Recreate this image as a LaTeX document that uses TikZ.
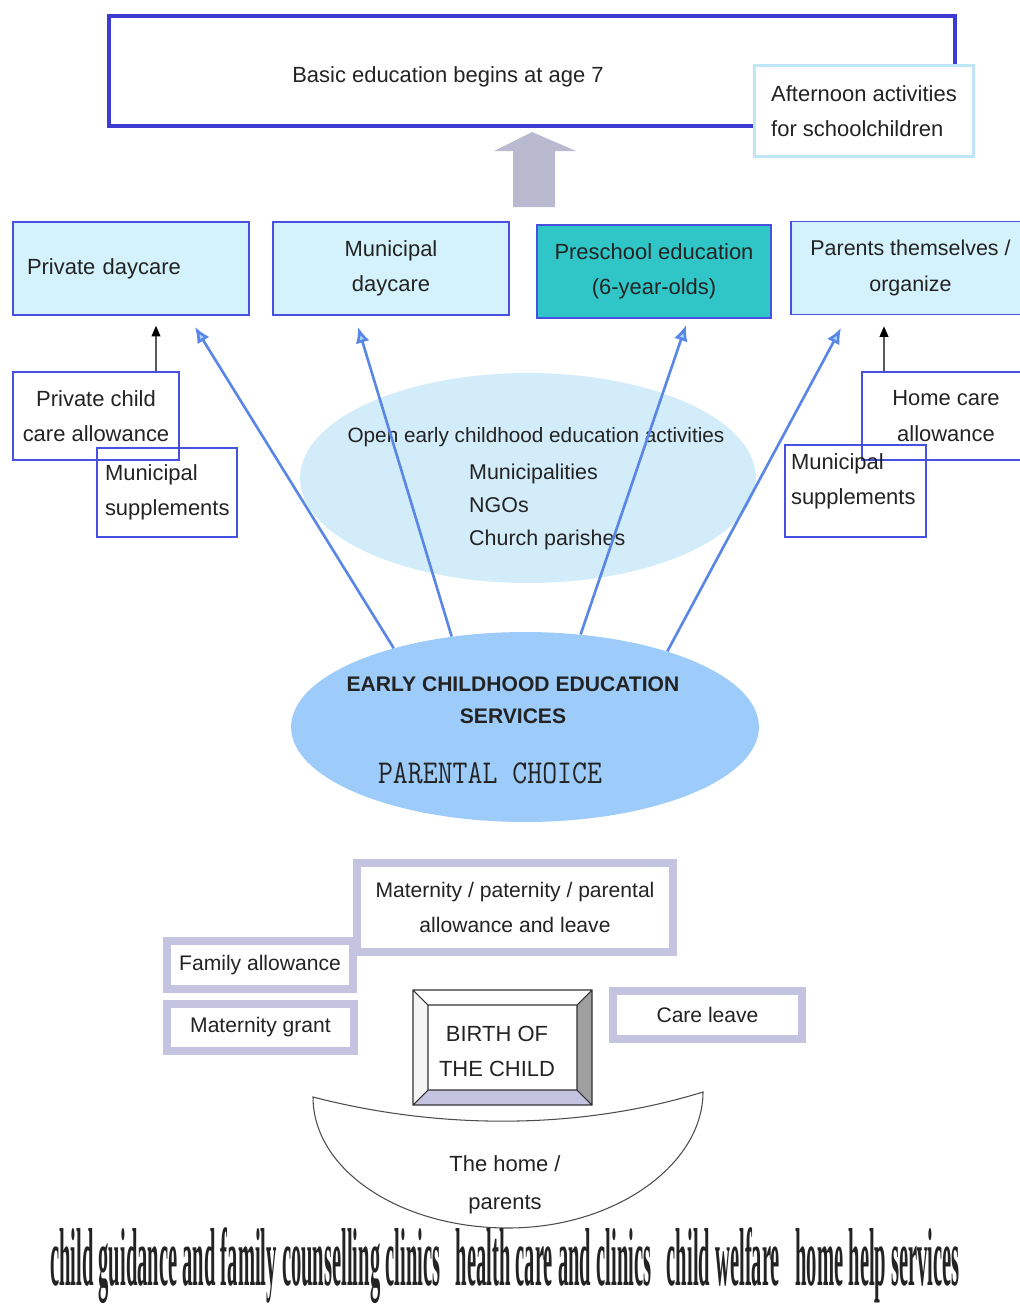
\documentclass[tikz,border=0pt]{standalone}
\usepackage{fontspec}
\usepackage{graphicx}
\setmainfont{Liberation Sans}
\newfontfamily\choicefont{Latin Modern Mono}
\newfontfamily\servicefont{Liberation Serif}
\usetikzlibrary{arrows.meta,shapes.geometric}

\definecolor{textgray}{RGB}{35,35,35}
\definecolor{schoolblue}{RGB}{60,60,210}
\definecolor{afterblue}{RGB}{190,230,245}
\definecolor{rowfill}{RGB}{212,242,252}
\definecolor{rowdraw}{RGB}{70,80,225}
\definecolor{preteal}{RGB}{48,198,200}
\definecolor{openblue}{RGB}{210,236,250}
\definecolor{ecblue}{RGB}{158,204,250}
\definecolor{choiceblue}{RGB}{90,135,230}
\definecolor{choicelight}{RGB}{170,215,250}
\definecolor{benefitgray}{RGB}{196,196,224}
\definecolor{schoolarrow}{RGB}{185,185,208}

\begin{document}
\begin{tikzpicture}[x=0.02cm,y=-0.02cm,
    every node/.style={text=textgray, font=\fontsize{12.5}{20}\selectfont},
    rowbox/.style={draw=rowdraw, line width=0.9pt, fill=rowfill, minimum width=4.72cm, minimum height=1.86cm, align=center},
    allowbox/.style={draw=rowdraw, line width=0.9pt, align=center},
    benefit/.style={draw=benefitgray, line width=4.5pt, align=center, font=\fontsize{12}{20}\selectfont},
    blackarrow/.style={draw=black, line width=0.8pt, -{Triangle[length=6pt,width=5pt]}},
    choicearrow/.style={draw=choiceblue, line width=1.5pt, -{Latex[length=9pt,width=8pt,fill=choicelight]}}]
      \useasboundingbox (0,0) rectangle (1019,1308);

      % school at the top
      \node[draw=schoolblue, line width=2.3pt, minimum width=16.92cm, minimum height=2.2cm] (basic) at (532,71) {};
      \node (basictext) at (448,77) {Basic education begins at age 7};
      \node[draw=afterblue, line width=1.7pt, fill=white, minimum width=4.4cm, minimum height=1.84cm, align=left] (after) at (864,111) {Afternoon activities\\for schoolchildren};
      \fill[schoolarrow] (513,207) -- (513,151) -- (494,151) -- (532,132) -- (576,151) -- (555,151) -- (555,207) -- cycle;

      % the four forms of care
      \node[rowbox, text width=4.16cm, inner xsep=0.28cm, align=left] (privcare) at (131,268.5) {Private daycare};
      \node[rowbox] (municare) at (391,268.5) {Municipal\\daycare};
      \node[rowbox, fill=preteal, minimum width=4.68cm] (preschool) at (654,271.5) {Preschool education\\(6-year-olds)};
      \node[rowbox, minimum width=4.78cm, font=\fontsize{12.2}{20}\selectfont] (parents) at (910.5,268) {Parents themselves /\\organize};

      % allowances
      \node[allowbox, minimum width=3.32cm, minimum height=1.76cm] (privallow) at (96,416) {Private child\\care allowance};
      \node[allowbox, minimum height=1.78cm, text width=2.48cm, inner xsep=0.16cm, align=left] (munisuppl) at (167,492.5) {Municipal\\supplements};
      \node[allowbox, minimum width=3.36cm, minimum height=1.76cm] (homeallow) at (946,416) {Home care\\allowance};
      \node[allowbox, minimum height=1.84cm, text width=2.58cm, inner xsep=0.12cm, align=left] (munisupplr) at (855.5,491) {Municipal\\supplements\\[-6.4pt]\mbox{}};
      \draw[blackarrow] ([xshift=1.2cm]privallow.north) -- ([xshift=0.5cm,yshift=-0.2cm]privcare.south);
      \draw[blackarrow] ([xshift=-1.24cm]homeallow.north) -- ([xshift=-0.53cm,yshift=-0.22cm]parents.south);

      % open activities
      \node[ellipse, fill=openblue, minimum width=9.12cm, minimum height=4.2cm] (openact) at (528,478) {};
      \node[font=\fontsize{11.8}{18.7}\selectfont] (opentitle) at (536,437) {Open early childhood education activities};
      \node[anchor=west, align=left, font=\fontsize{12.2}{18.7}\selectfont] (openorgs) at (463,507) {Municipalities\\NGOs\\Church parishes};

      % services and parental choice
      \node[ellipse, fill=ecblue, minimum width=9.36cm, minimum height=3.8cm] (ecec) at (525,727) {};
      \node[font=\bfseries\fontsize{12}{18}\selectfont, align=center] (ecectitle) at (513,700) {EARLY CHILDHOOD EDUCATION\\SERVICES};
      \node[font=\choicefont\fontsize{16.5}{18}\selectfont] (choice) at (490,773) {\scalebox{1}[1.15]{PARENTAL CHOICE}};

      \coordinate (privtip) at (195,327);
      \coordinate (munitip) at (358,327);
      \coordinate (pretip) at (686,325);
      \coordinate (partip) at (841,328);
      \draw[choicearrow] (ecec.149) -- (privtip);
      \draw[choicearrow] (ecec.129) -- (munitip);
      \draw[choicearrow] (ecec.59) -- (pretip);
      \draw[choicearrow] (ecec.28) -- (partip);

      % benefits round the birth
      \node[benefit, minimum width=6.32cm, minimum height=1.78cm] (parentleave) at (515,907.5) {Maternity / paternity / parental\\allowance and leave};
      \node[benefit, minimum width=3.72cm, minimum height=0.96cm] (familyallow) at (260,965) {Family allowance};
      \node[benefit, minimum width=3.74cm, minimum height=0.94cm] (matgrant) at (260.5,1027.5) {Maternity grant};
      \node[benefit, minimum width=3.78cm, minimum height=0.96cm] (careleave) at (707.5,1015) {Care leave};

      % bevelled frame of the birth
      \fill[white] (413,990) -- (592,990) -- (577,1005) -- (428,1005) -- cycle;
      \fill[gray!8] (413,990) -- (428,1005) -- (428,1090) -- (413,1105) -- cycle;
      \fill[gray!75] (592,990) -- (592,1105) -- (577,1090) -- (577,1005) -- cycle;
      \fill[benefitgray] (413,1105) -- (592,1105) -- (577,1090) -- (428,1090) -- cycle;
      \draw[black!80, line width=0.6pt] (413,990) rectangle (592,1105) (428,1005) rectangle (577,1090)
        (413,990) -- (428,1005) (592,990) -- (577,1005) (592,1105) -- (577,1090) (413,1105) -- (428,1090);
      \node[align=center] (birth) at (497,1051) {BIRTH OF\\THE CHILD};

      % the home
      \draw[black!70, line width=0.6pt, fill=white] (313,1097) .. controls (440,1130) and (580,1130) .. (703,1092)
        .. controls (703,1164) and (616,1228) .. (508,1228) .. controls (400,1228) and (313,1170) .. cycle;
      \node[align=center, font=\fontsize{12.5}{21.5}\selectfont] (home) at (505,1185) {The home /\\parents};

      \node (services) at (505,1266) {\servicefont\bfseries\resizebox*{18.2cm}{1.52cm}{child guidance and family counselling clinics~~ health care and clinics~~ child welfare~~ home help services}};
    \end{tikzpicture}
\end{document}
